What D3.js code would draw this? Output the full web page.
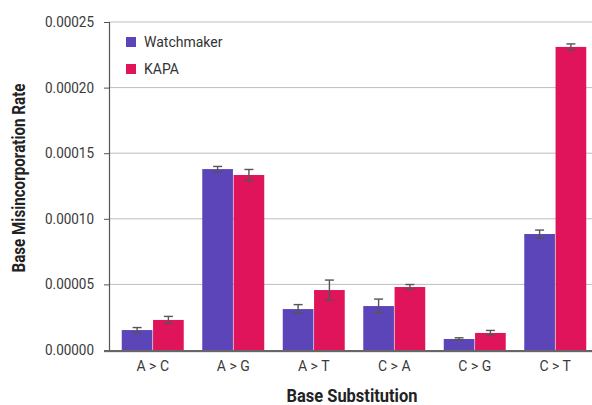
<!DOCTYPE html>
<html><head><meta charset="utf-8">
<script src="https://cdn.jsdelivr.net/npm/d3@7"></script>
<style>body{margin:0;background:#fff}svg{display:block;font-family:Roboto,"Noto Sans",sans-serif}</style>
</head><body>
<svg id="c" width="592" height="405"></svg>
<script>
const categories = ["A > C","A > G","A > T","C > A","C > G","C > T"];
const seriesNames = ["Watchmaker","KAPA"];
const watchmaker = [1.52e-5, 1.379e-4, 3.12e-5, 3.35e-5, 8.4e-6, 8.84e-5];
const watchmakerErr = [1.9e-6, 2.0e-6, 3.4e-6, 5.3e-6, 0.9e-6, 3.0e-6];
const kapa = [2.29e-5, 1.334e-4, 4.57e-5, 4.8e-5, 1.3e-5, 2.31e-4];
const kapaErr = [2.7e-6, 4.2e-6, 7.6e-6, 1.9e-6, 1.9e-6, 2.3e-6];
const yTicks = [0, 0.00005, 0.0001, 0.00015, 0.0002, 0.00025];
const colors = ["#5b45b8", "#e0145a"];

const svg = d3.select("#c");
const mLeft = 109, mRight = 592, mTop = 22, mBottom = 350;
const y = d3.scaleLinear().domain([0, 0.00025]).range([mBottom, mTop]);
const x = d3.scaleBand().domain(categories).range([112.5, 595.5]).paddingInner(0.23).paddingOuter(0.115);
const xs = d3.scaleBand().domain(seriesNames).range([0, x.bandwidth()]).paddingInner(0.02);

// grid
svg.append("g").selectAll("line").data(yTicks.slice(1)).join("line")
  .attr("x1", mLeft).attr("x2", mRight).attr("y1", d => y(d)).attr("y2", d => y(d))
  .attr("stroke", "#bdbdbd").attr("stroke-width", 1);

// y axis
const ya = svg.append("g").attr("transform", `translate(${mLeft},0)`)
  .call(d3.axisLeft(y).tickValues(yTicks).tickFormat(d3.format(".5f")).tickSize(5).tickPadding(10));
ya.select(".domain").attr("stroke", "#555").attr("stroke-width", 1.2);
ya.selectAll(".tick line").attr("stroke", "#555");
ya.selectAll(".tick text").attr("font-size", 14).attr("fill", "#3a3a3a").attr("font-family", "Roboto")
  .attr("textLength", 49).attr("lengthAdjust", "spacingAndGlyphs");

const data = categories.map((c, i) => ({c, vals: [
  {s: seriesNames[0], v: watchmaker[i], e: watchmakerErr[i]},
  {s: seriesNames[1], v: kapa[i], e: kapaErr[i]}]}));

const g = svg.append("g").selectAll("g").data(data).join("g")
  .attr("transform", d => `translate(${x(d.c)},0)`);
g.selectAll("rect").data(d => d.vals).join("rect")
  .attr("x", d => xs(d.s)).attr("width", xs.bandwidth())
  .attr("y", d => y(d.v)).attr("height", d => y(0) - y(d.v))
  .attr("fill", (d, i) => colors[i]);
const eb = g.selectAll("g.eb").data(d => d.vals).join("g").attr("class", "eb")
  .attr("stroke", "#555").attr("stroke-width", 1.4);
eb.append("line").attr("x1", d => xs(d.s) + xs.bandwidth()/2).attr("x2", d => xs(d.s) + xs.bandwidth()/2)
  .attr("y1", d => y(d.v + d.e)).attr("y2", d => y(d.v - d.e));
eb.append("line").attr("x1", d => xs(d.s) + xs.bandwidth()/2 - 4.5).attr("x2", d => xs(d.s) + xs.bandwidth()/2 + 4.5)
  .attr("y1", d => y(d.v + d.e)).attr("y2", d => y(d.v + d.e));
eb.append("line").attr("x1", d => xs(d.s) + xs.bandwidth()/2 - 4.5).attr("x2", d => xs(d.s) + xs.bandwidth()/2 + 4.5)
  .attr("y1", d => y(d.v - d.e)).attr("y2", d => y(d.v - d.e));

// x axis
const xa = svg.append("g").attr("transform", `translate(0,${mBottom})`)
  .call(d3.axisBottom(x).tickSize(0).tickPadding(11));
xa.select(".domain").remove();
xa.selectAll(".tick text").attr("font-size", 14).attr("fill", "#3a3a3a").attr("font-family", "Roboto");
svg.append("line").attr("x1", 104).attr("x2", mRight).attr("y1", mBottom + 1).attr("y2", mBottom + 1)
  .attr("stroke", "#666").attr("stroke-width", 2);
svg.append("line").attr("x1", 104).attr("x2", mRight).attr("y1", mBottom + 2.5).attr("y2", mBottom + 2.5)
  .attr("stroke", "#e6e6e6").attr("stroke-width", 1);

// titles
svg.append("text").attr("x", 352).attr("y", 402).attr("text-anchor", "middle")
  .attr("font-size", 17.5).attr("font-weight", "bold").attr("fill", "#222")
  .attr("textLength", 131).attr("lengthAdjust", "spacingAndGlyphs").text("Base Substitution");
svg.append("text").attr("transform", "translate(25,178) rotate(-90)").attr("text-anchor", "middle")
  .attr("font-size", 17.5).attr("font-weight", "bold").attr("fill", "#222")
  .attr("textLength", 189).attr("lengthAdjust", "spacingAndGlyphs").text("Base Misincorporation Rate");

// legend
const lg = svg.append("g").selectAll("g").data(seriesNames).join("g")
  .attr("transform", (d, i) => `translate(126,${37 + i * 27})`);
lg.append("rect").attr("width", 10).attr("height", 10).attr("fill", (d, i) => colors[i]);
lg.append("text").attr("x", 18).attr("y", 10).attr("font-size", 14).attr("fill", "#333").text(d => d);
</script>
</body></html>
